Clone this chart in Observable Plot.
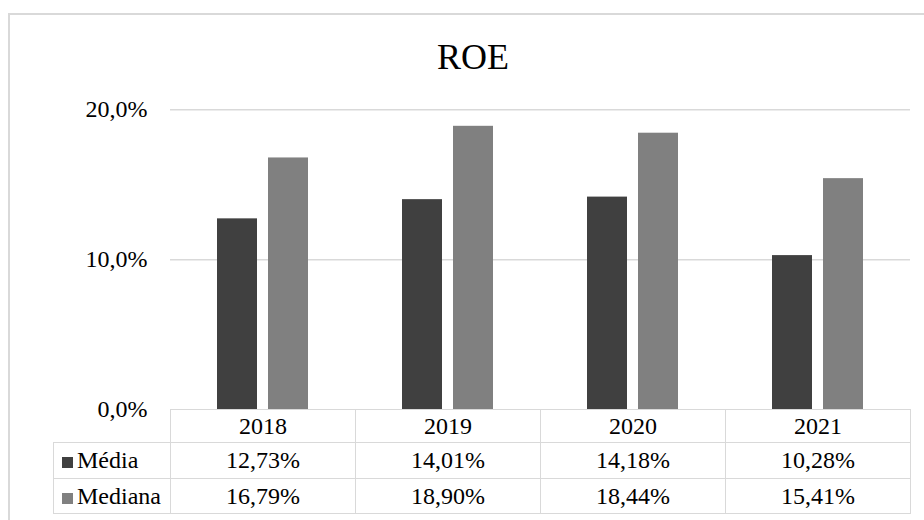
<!DOCTYPE html>
<html><head><meta charset="utf-8">
<script src="https://cdn.jsdelivr.net/npm/d3@7"></script>
<script src="https://cdn.jsdelivr.net/npm/@observablehq/plot@0.6"></script>
<style>
body{margin:0;background:#fff;}
#wrap{position:relative;width:924px;height:520px;overflow:hidden;font-family:"Liberation Serif","Times New Roman",Tinos,"DejaVu Serif","Noto Serif","Noto Serif CJK SC","Noto Serif CJK JP",FreeSerif,serif;color:#000;}
#frame{position:absolute;left:8px;top:13px;width:960px;height:560px;border:2px solid #d9d9d9;box-sizing:border-box;}
#title{position:absolute;left:0;width:946px;top:39px;text-align:center;font-size:36px;line-height:36px;}
#chart{position:absolute;left:0;top:0;}
#tbl{position:absolute;left:53px;top:408.5px;border-collapse:collapse;table-layout:fixed;font-size:24px;font-family:inherit;}
#tbl td{border:1.5px solid #d9d9d9;text-align:center;padding:0;line-height:24px;}
#tbl td.lab{text-align:left;padding-left:8px;}
#tbl td.empty{border-top:none;border-left:none;}
.sw{display:inline-block;width:11px;height:11px;margin-right:4px;vertical-align:0px;}
</style>
</head><body>
<div id="wrap">
  <div id="frame"></div>
  <div id="title"></div>
  <div id="chart"></div>
  <table id="tbl"></table>
</div>
<script>
const title = "ROE";
const years = ["2018", "2019", "2020", "2021"];
const series = ["Média", "Mediana"];
const media = [12.73, 14.01, 14.18, 10.28];
const mediana = [16.79, 18.90, 18.44, 15.41];
const yTicks = [0, 10, 20];
const colors = ["#404040", "#808080"];

document.getElementById("title").textContent = title;

const seriesValues = [media, mediana];
const data = years.flatMap((y, i) => series.map((s, k) => ({year: y, serie: s, v: seriesValues[k][i]})));

const fmtAxis = d => d.toFixed(1).replace(".", ",") + "%";
const fmtTable = d => d.toFixed(2).replace(".", ",") + "%";

const chart = Plot.plot({
  width: 924,
  height: 440,
  marginLeft: 170,
  marginRight: 14,
  marginTop: 109.3,
  marginBottom: 30.7,
  style: {fontFamily: 'inherit', fontSize: "24px", color: "#000", background: "transparent", overflow: "visible"},
  fx: {domain: years, padding: 0, axis: null},
  x: {domain: series, paddingInner: 0.2115, paddingOuter: 0.8846, axis: null},
  y: {domain: [0, 20], axis: null},
  color: {domain: series, range: colors},
  marks: [
    Plot.gridY(yTicks.slice(1), {stroke: "#d9d9d9", strokeOpacity: 1, strokeWidth: 1.5}),
    Plot.barY(data, {fx: "year", x: "serie", y: "v", fill: "serie"}),
    Plot.axisY(yTicks, {tickSize: 0, tickPadding: 23, tickFormat: fmtAxis, fontSize: 24, fill: "#000", label: null})
  ]
});
document.getElementById("chart").appendChild(chart);

// data table
const tbl = document.getElementById("tbl");
const widths = [117, 185, 185, 185, 185];
const cg = document.createElement("colgroup");
widths.forEach(w => { const c = document.createElement("col"); c.style.width = w + "px"; cg.appendChild(c); });
tbl.appendChild(cg);
const rowH = [33, 36, 35];
const hr = document.createElement("tr");
hr.style.height = rowH[0] + "px";
const e = document.createElement("td"); e.className = "empty"; hr.appendChild(e);
years.forEach(y => { const td = document.createElement("td"); td.textContent = y; hr.appendChild(td); });
tbl.appendChild(hr);
series.forEach((s, k) => {
  const tr = document.createElement("tr");
  tr.style.height = rowH[k + 1] + "px";
  const lab = document.createElement("td"); lab.className = "lab";
  const sw = document.createElement("span"); sw.className = "sw"; sw.style.background = colors[k];
  lab.appendChild(sw); lab.appendChild(document.createTextNode(s));
  tr.appendChild(lab);
  seriesValues[k].forEach(v => { const td = document.createElement("td"); td.textContent = fmtTable(v); tr.appendChild(td); });
  tbl.appendChild(tr);
});
</script>
</body></html>
